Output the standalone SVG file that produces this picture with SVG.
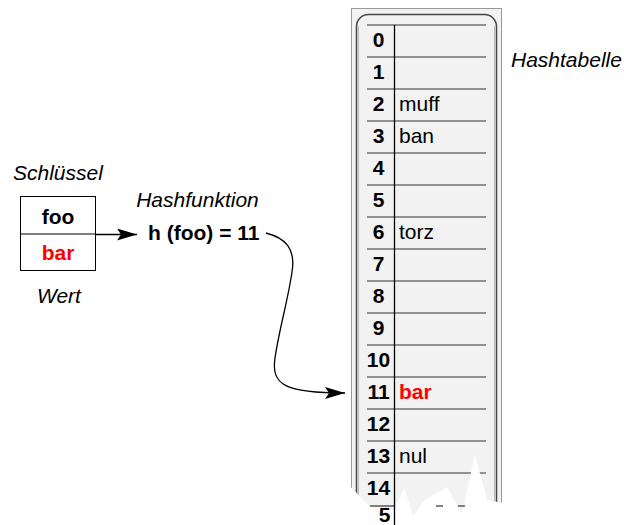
<svg xmlns="http://www.w3.org/2000/svg" width="624" height="525" viewBox="0 0 624 525">
  <style>
    text { font-family: "Liberation Sans", Arial, sans-serif; font-size: 21px; fill: #000; }
    .it { font-style: italic; }
    .b { font-weight: bold; }
    .red { fill: #ff0000; }
    .num { font-weight: bold; text-anchor: middle; }
    .row { stroke: #333; stroke-width: 1.2; fill: none; }
    .conn { stroke: #000; stroke-width: 1.3; fill: none; }
  </style>
  <defs>
    <marker id="stealth" viewBox="0 0 20 12" refX="20" refY="6" markerWidth="20" markerHeight="12" markerUnits="userSpaceOnUse" orient="auto">
      <path d="M0,0 L20,6 L0,12 L4,6 Z" fill="#000"/>
    </marker>
  </defs>
  <rect width="624" height="525" fill="#fff"/>

  <!-- Key/value box -->
  <g id="schluessel-label"><text class="it" x="13" y="180">Schlüssel</text></g>
  <g id="key-value-box">
    <rect x="20.5" y="196.5" width="75" height="74" fill="#fff" stroke="#000" stroke-width="1"/>
    <line x1="20.5" y1="234" x2="95.5" y2="234" stroke="#000" stroke-width="1"/>
    <text class="b" x="58" y="224" text-anchor="middle">foo</text>
    <text class="b red" x="58" y="260" text-anchor="middle">bar</text>
  </g>
  <g id="wert-label"><text class="it" x="37" y="303">Wert</text></g>

  <!-- Hash function -->
  <g id="hashfunktion">
    <text class="it" x="197.5" y="207" text-anchor="middle">Hashfunktion</text>
    <text class="b" x="148" y="240">h (foo) = 11</text>
  </g>

  <!-- Hash table -->
  <g id="hashtabelle">
    <rect x="351.5" y="8.5" width="150" height="530" fill="#f2f2f2" stroke="#999" stroke-width="1"/>
    <rect x="356.5" y="14.5" width="140" height="530" rx="12" ry="12" fill="#f2f2f2" stroke="#444" stroke-width="1.5"/>
    <line x1="358.5" y1="26" x2="358.5" y2="525" stroke="#bbb" stroke-width="1"/>
    <line x1="494.5" y1="26" x2="494.5" y2="525" stroke="#bbb" stroke-width="1"/>
    <g class="row">
      <line x1="367" y1="25" x2="486" y2="25"/>
      <line x1="367" y1="57" x2="486" y2="57"/>
      <line x1="367" y1="89" x2="486" y2="89"/>
      <line x1="367" y1="121" x2="486" y2="121"/>
      <line x1="367" y1="153" x2="486" y2="153"/>
      <line x1="367" y1="185" x2="486" y2="185"/>
      <line x1="367" y1="217" x2="486" y2="217"/>
      <line x1="367" y1="249" x2="486" y2="249"/>
      <line x1="367" y1="281" x2="486" y2="281"/>
      <line x1="367" y1="313" x2="486" y2="313"/>
      <line x1="367" y1="345" x2="486" y2="345"/>
      <line x1="367" y1="377" x2="486" y2="377"/>
      <line x1="367" y1="409" x2="486" y2="409"/>
      <line x1="367" y1="441" x2="486" y2="441"/>
      <line x1="367" y1="473" x2="486" y2="473"/>
    </g>
    <text class="num" x="378.5" y="47">0</text>
    <text class="num" x="378.5" y="79">1</text>
    <text class="num" x="378.5" y="111">2</text>
    <text class="num" x="378.5" y="143">3</text>
    <text class="num" x="378.5" y="175">4</text>
    <text class="num" x="378.5" y="207">5</text>
    <text class="num" x="378.5" y="239">6</text>
    <text class="num" x="378.5" y="271">7</text>
    <text class="num" x="378.5" y="303">8</text>
    <text class="num" x="378.5" y="335">9</text>
    <text class="num" x="378.5" y="367">10</text>
    <text class="num" x="378.5" y="399">11</text>
    <text class="num" x="378.5" y="431">12</text>
    <text class="num" x="378.5" y="463">13</text>
    <text class="num" x="378.5" y="495">14</text>
    <text x="399" y="111">muff</text>
    <text x="399" y="143">ban</text>
    <text x="399" y="239">torz</text>
    <text class="b red" x="399" y="399">bar</text>
    <text x="399" y="463">nul</text>
    <!-- torn bottom -->
    <polygon points="349,485 370,507 394,510 404,488 413,516 425,500 447,487 462,514 475,455 487,500 503,503 503,526 349,526" fill="#fff"/>
    <g class="row">
      <line x1="370" y1="506" x2="394" y2="506"/>
      <line x1="436" y1="506" x2="443" y2="506"/>
      <line x1="458" y1="506" x2="465" y2="506"/>
    </g>
    <line x1="394.5" y1="25" x2="394.5" y2="525" stroke="#000" stroke-width="1.3"/>
    <text class="num" x="384.5" y="522" font-size="19">5</text>
  </g>
  <g id="hashtabelle-label"><text class="it" x="511" y="67">Hashtabelle</text></g>

  <!-- Connectors -->
  <g id="connectors">
    <path class="conn" d="M96,234.5 L137,234.5" marker-end="url(#stealth)"/>
    <path class="conn" d="M266,233 C285,238 296,248 292,272 C288,300 279,330 275,358 C271,385 285,393 345,393" marker-end="url(#stealth)"/>
  </g>
</svg>
